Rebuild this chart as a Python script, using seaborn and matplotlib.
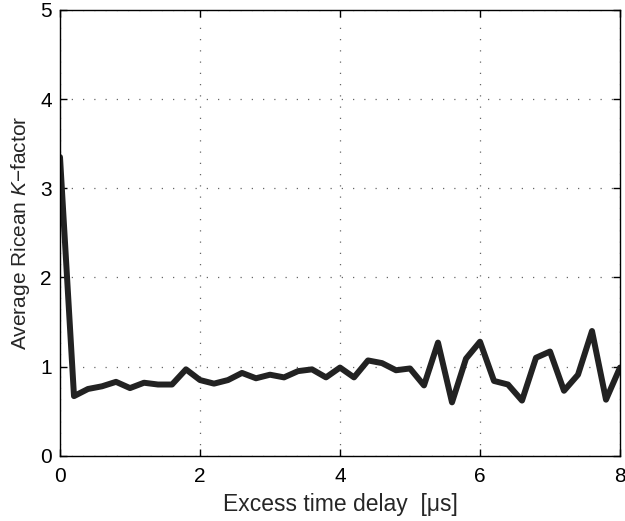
import numpy as np
import pandas as pd
import matplotlib
matplotlib.use("Agg")
import matplotlib.pyplot as plt
import seaborn as sns

delay_us = [0.0, 0.2, 0.4, 0.6, 0.8, 1.0, 1.2, 1.4, 1.6, 1.8, 2.0, 2.2, 2.4, 2.6, 2.8,
            3.0, 3.2, 3.4, 3.6, 3.8, 4.0, 4.2, 4.4, 4.6, 4.8, 5.0, 5.2, 5.4, 5.6, 5.8,
            6.0, 6.2, 6.4, 6.6, 6.8, 7.0, 7.2, 7.4, 7.6, 7.8, 8.0]
k_factor = [3.35, 0.67, 0.75, 0.78, 0.83, 0.76, 0.82, 0.80, 0.80, 0.97, 0.85, 0.81, 0.85, 0.93, 0.87,
            0.91, 0.88, 0.95, 0.97, 0.88, 0.99, 0.88, 1.07, 1.04, 0.96, 0.98, 0.79, 1.27, 0.60, 1.09,
            1.28, 0.84, 0.80, 0.62, 1.10, 1.17, 0.73, 0.91, 1.40, 0.63, 0.99]
x_ticks = [0, 2, 4, 6, 8]
y_ticks = [0, 1, 2, 3, 4, 5]

df = pd.DataFrame({"delay": delay_us, "k": k_factor})

sns.set_style("white")
plt.rcParams['font.family'] = ['Liberation Sans', 'DejaVu Sans']
plt.rcParams['mathtext.fontset'] = 'custom'
plt.rcParams['mathtext.it'] = 'Liberation Sans:italic'
plt.rcParams['mathtext.rm'] = 'Liberation Sans'

fig = plt.figure(figsize=(6.25, 5.21), dpi=100)
ax = fig.add_axes([0.096, 0.125, 0.896, 0.856])

sns.lineplot(data=df, x="delay", y="k", ax=ax, color="#222222", linewidth=4.3)

ax.set_xlim(0, 8)
ax.set_ylim(0, 5)
ax.set_xticks(x_ticks)
ax.set_yticks(y_ticks)
ax.grid(True, linestyle=(0, (1, 8)), color="#666666", linewidth=0.9)
for s in ax.spines.values():
    s.set_color("black")
    s.set_linewidth(1.0)
ax.tick_params(direction="in", length=5, width=1, labelsize=15, colors="black",
               top=True, right=True, bottom=True, left=True)
ax.tick_params(axis="x", pad=8)
ax.tick_params(axis="y", pad=6)
ax.set_xlabel("Excess time delay  [\u03bcs]", fontsize=16.5, labelpad=5)
ax.set_ylabel("Average Ricean $K$\u2212factor", fontsize=15, labelpad=6)

fig.savefig("out.png", dpi=100)
